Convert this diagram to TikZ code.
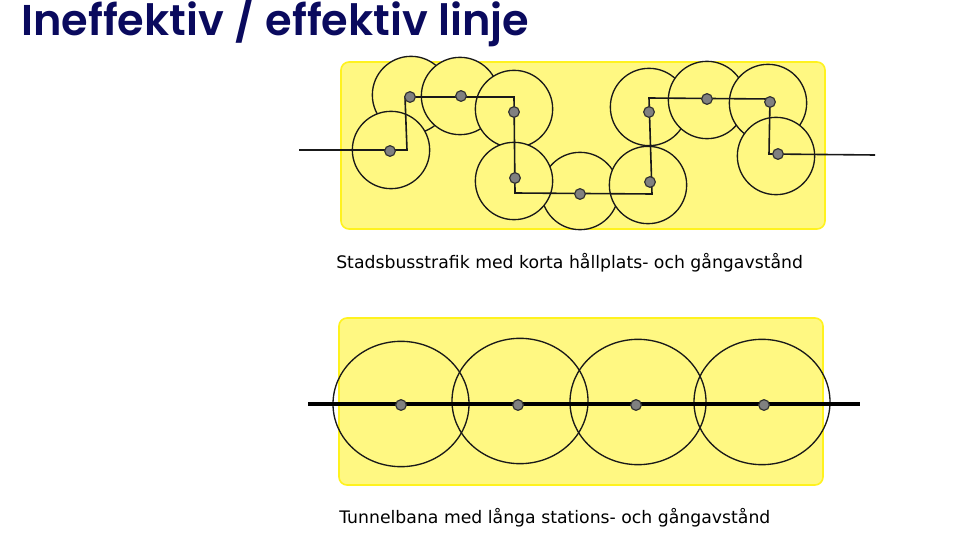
\documentclass[tikz,border=0pt]{standalone}
\usepackage{xcolor}
\usepackage{fontspec}
\setmainfont{DejaVu Sans}
\newfontfamily\titlefont{Poppins SemiBold}
\usetikzlibrary{positioning, shapes.geometric}
\definecolor{zonefill}{HTML}{FFF882}
\definecolor{zoneedge}{HTML}{FFF21E}
\definecolor{titleblue}{HTML}{0A0A5E}
\definecolor{stopgray}{HTML}{808080}
\begin{document}
\begin{tikzpicture}[
        x=0.75pt, y=-0.75pt,
        area/.style={draw=zoneedge, fill=zonefill, line width=1.2pt, rounded corners=6pt},
        zone/.style={circle, draw=black!90, fill=zonefill, line width=1pt, minimum size=58pt, inner sep=0pt},
        reach/.style={ellipse, draw=black!90, line width=1pt, minimum width=102pt, minimum height=94pt, inner sep=0pt},
        stopnode/.style={circle, draw=black!80, fill=stopgray, line width=0.9pt, minimum size=8pt, inner sep=0pt},
        busline/.style={draw=black!90, line width=1.2pt},
        metroline/.style={draw=black, line width=2.3pt},
        caption/.style={anchor=base west, font=\fontsize{12.95pt}{15pt}\selectfont, inner sep=0pt}
    ]
    \useasboundingbox (0,0) rectangle (956,538);

    % Title
    \node[anchor=base west, inner sep=0pt, text=titleblue, font=\titlefont\fontsize{32.3pt}{36pt}\selectfont] (title) at (21,36) {Ineffektiv / effektiv linje};

    % Areas
    \draw[area] (341,62) rectangle (825,229);
    \draw[area] (339,318) rectangle (823,485);

    % Bus zones
    \node[zone] (Z2) at (411,95) {};
    \node[zone] (Z1) at (391,150) {};
    \node[zone] (Z3) at (460,96) {};
    \node[zone] (Z4) at (514,109) {};
    \node[zone] (Z6) at (580,191) {};
    \node[zone] (Z5) at (514,181) {};
    \node[zone] (Z8) at (649,107) {};
    \node[zone] (Z7) at (648,185) {};
    \node[zone] (Z9) at (707,100) {};
    \node[zone] (Z10) at (768,103) {};
    \node[zone] (Z11) at (776,156) {};

    % Bus route
    \coordinate (R0) at (299,150);
    \coordinate (R1) at (407,150);
    \coordinate (R2) at (405,97);
    \coordinate (R3) at (514,97);
    \coordinate (R4) at (515,193);
    \coordinate (R5) at (652,194);
    \coordinate (R6) at (649,98);
    \coordinate (R7) at (770,99);
    \coordinate (R8) at (769,154);
    \coordinate (R9) at (875,155);
    \draw[busline] (R0) -- (R1) -- (R2) -- (R3) -- (R4) -- (R5) -- (R6) -- (R7) -- (R8) -- (R9);

    % Bus stops
    \node[stopnode] (S1) at (390,151) {};
    \node[stopnode] (S2) at (410,97) {};
    \node[stopnode] (S3) at (461,96) {};
    \node[stopnode] (S4) at (514,112) {};
    \node[stopnode] (S5) at (515,178) {};
    \node[stopnode] (S6) at (580,194) {};
    \node[stopnode] (S7) at (650,182) {};
    \node[stopnode] (S8) at (649,112) {};
    \node[stopnode] (S9) at (707,99) {};
    \node[stopnode] (S10) at (770,102) {};
    \node[stopnode] (S11) at (778,154) {};

    \node[caption] (busText) at (336,268) {Stadsbusstrafik med korta hållplats- och gångavstånd};

    % Metro reach
    \node[reach] (E1) at (401,404) {};
    \node[reach] (E2) at (520,401) {};
    \node[reach] (E3) at (638,402) {};
    \node[reach] (E4) at (762,402) {};

    % Metro line
    \coordinate (L0) at (308,404);
    \coordinate (L1) at (860,404);
    \draw[metroline] (L0) -- (L1);

    % Stations
    \node[stopnode] (T1) at (401,405) {};
    \node[stopnode] (T2) at (518,405) {};
    \node[stopnode] (T3) at (636,405) {};
    \node[stopnode] (T4) at (764,405) {};

    \node[caption] (metroText) at (339,523) {Tunnelbana med långa stations- och gångavstånd};
\end{tikzpicture}
\end{document}
